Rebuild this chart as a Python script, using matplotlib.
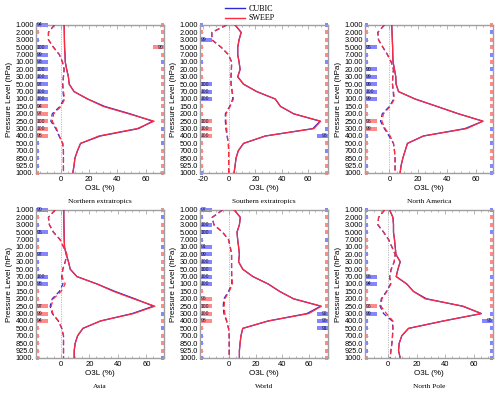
import matplotlib
matplotlib.use("Agg")
import matplotlib.pyplot as plt
import matplotlib.transforms as mtransforms
from matplotlib.patches import Rectangle
from matplotlib.lines import Line2D
from matplotlib.ticker import MultipleLocator

# pressure levels, top (1 hPa) to bottom (1000 hPa)
levels = ["1.000", "2.000", "3.000", "5.000", "7.000", "10.00", "20.00", "30.00",
          "50.00", "70.00", "100.0", "150.0", "200.0", "250.0", "300.0", "400.0",
          "500.0", "700.0", "850.0", "925.0", "1000."]

titles = ["Northern extratropics", "Southern extratropics", "North America",
          "Asia", "World", "North Pole"]

# Northern extratropics
ne_solid_red = [2.4, 2.5, 2.6, 2.7, 3.0, 3.2, 4.2, 5.4, 6.0, 9.4, 19, 30, 48, 66, 54, 27, 14, 11.8, 10, 9.4, 8.5]
ne_solid_blue = [2.4, 2.5, 2.6, 2.7, 3.0, 3.2, 4.2, 5.4, 6.0, 9.4, 19, 31, 49, 65, 55, 28, 14, 11.8, 10, 9.4, 8.5]
ne_dash_red = [-4.5, -8.7, -8.7, -5.2, -1.0, 1.2, 2.4, 1.9, 1.4, 1.9, 2.8, 0.2, -5.0, -6.0, -3.0, -1.0, 1.4, 1.9, 1.9, 1.9, 1.9]
ne_dash_blue = [-4.5, -8.7, -8.7, -5.2, -1.0, 1.2, 2.4, 1.9, 1.4, 1.6, 2.2, -0.5, -6.0, -7.0, -3.5, -1.2, 1.4, 1.9, 1.9, 1.9, 1.9]
ne_left_col = "brbbbbbbbbbrrrrrbbbbr"
ne_left_num = [94, 0, 0, 100, 99, 93, 100, 100, 97, 100, 100, 94, 97, 100, 100, 98, 0, 0, 0, 0, 0]
ne_right_col = "rrrrrbrrrrrrrrbrbrrrr"
ne_right_num = [0, 0, 0, 90, 0, 0, 0, 0, 0, 0, 0, 0, 0, 0, 0, 0, 0, 0, 0, 0, 0]

# Southern extratropics
se_solid_red = [4.6, 9.2, 7.6, 6.6, 6.6, 7.6, 8.4, 6.6, 11, 21, 35, 39, 49, 69.5, 64.4, 27.5, 11, 7, 5.3, 4.6, 3.8]
se_solid_blue = [4.6, 9.2, 7.6, 6.6, 6.6, 7.6, 8.4, 6.6, 11, 21, 35, 39, 49, 69, 63.5, 27.5, 11, 7, 5.3, 4.6, 3.8]
se_dash_red = [-1.8, -13, -13, -6, -0.5, 2, 1.8, 1.5, 1.5, 2.5, 3.3, 0.8, -2.3, -2.3, -1.8, -1.3, -0.5, -0.3, -0.3, -0.3, -0.3]
se_dash_blue = [-1.8, -13, -13, -6, -0.5, 2, 1.8, 1.5, 1.5, 2.3, 2.8, 0.5, -2.8, -2.8, -2.4, -1.5, -0.5, -0.3, -0.3, -0.3, -0.3]
se_left_col = "brbrrbrrbbbrrrrrrrrrb"
se_left_num = [0, 0, 99, 0, 0, 0, 0, 0, 100, 100, 100, 0, 0, 100, 100, 100, 0, 0, 0, 0, 0]
se_right_col = "brrrrbrrrrrrrrbbrbrrr"
se_right_num = [0, 0, 0, 0, 0, 0, 0, 0, 0, 0, 0, 0, 0, 0, 0, 93, 0, 0, 0, 0, 0]

# North America
na_solid_red = [1.6, 1.8, 2.0, 2.2, 2.3, 2.5, 3.5, 4.4, 4.6, 6.3, 17.8, 33, 48, 65, 53.7, 23.6, 12.5, 10.9, 9.3, 8.1, 7.4]
na_solid_blue = [1.6, 1.8, 2.0, 2.2, 2.3, 2.5, 3.5, 4.4, 4.6, 6.3, 17.8, 33, 48, 65, 52.5, 23.6, 12.5, 10.9, 9.3, 8.1, 7.4]
na_dash_red = [-3.5, -8.1, -7.6, -4.6, -1.4, 1.2, 2.8, 2.3, 2.1, 2.8, 3.5, 0.5, -4.2, -5.3, -3.0, 0.5, 2.8, 3.5, 3.9, 3.9, 3.9]
na_dash_blue = [-3.5, -8.1, -7.6, -4.6, -1.4, 1.2, 2.8, 2.3, 2.1, 2.6, 3.0, 0.0, -5.0, -6.2, -3.5, -0.3, 2.8, 3.5, 3.9, 3.9, 3.9]
na_left_col = "brbbbbbbbbbrrrrbrrrbr"
na_left_num = [0, 0, 0, 95, 0, 0, 90, 99, 99, 100, 99, 0, 0, 96, 99, 0, 0, 0, 0, 0, 0]
na_right_col = "rbrrbrbrrrrrrrbrbrrbb"
na_right_num = [0] * 21

# Asia
as_solid_red = [2.1, 2.1, 2.2, 2.3, 2.4, 2.6, 3.8, 5.4, 6.6, 11.3, 25.4, 37, 51, 66, 51, 27.8, 15.5, 11.8, 10.1, 9.4, 9.4]
as_solid_blue = [2.1, 2.1, 2.2, 2.3, 2.4, 2.6, 3.8, 5.4, 6.6, 11.3, 25.4, 38, 52, 65, 50, 27.8, 15.5, 11.8, 10.1, 9.4, 9.4]
as_dash_red = [-4, -8.7, -8, -5.2, -0.5, 1.9, 4.2, 3.1, 1.4, 0.9, 3.1, 0.2, -5.2, -6.8, -5.6, -1.6, 0.7, 1.9, 1.9, 1.9, 1.9]
as_dash_blue = [-4, -8.7, -8, -5.2, -0.5, 1.9, 4.2, 3.1, 1.4, 0.6, 1.5, -1.0, -6.0, -7.5, -6.0, -1.8, 0.7, 1.9, 1.9, 1.9, 1.9]
as_left_col = "brbbbrbbbbbrrrrrrrrrr"
as_left_num = [90, 0, 0, 95, 0, 0, 97, 0, 0, 100, 98, 0, 0, 97, 99, 94, 0, 0, 0, 0, 0]
as_right_col = "rbrrrbrrrrrrrrbrbrrrb"
as_right_num = [0] * 21

# World
wo_solid_red = [3.8, 8.4, 7.7, 5.9, 6.4, 7.1, 7.7, 7.1, 10.2, 17.9, 29.4, 38, 48.5, 69.5, 60, 29.4, 10.2, 8.9, 8.2, 7.7, 7.7]
wo_solid_blue = [3.8, 8.4, 7.7, 5.9, 6.4, 7.1, 7.7, 7.1, 10.2, 17.9, 29.4, 38, 48.5, 69, 58.5, 29.4, 10.2, 8.9, 8.2, 7.7, 7.7]
wo_dash_red = [-5, -12.8, -11.5, -5, -0.5, 0.8, 1.8, 1.8, 1.8, 2, 2.5, 0, -3.3, -3.8, -3.3, -1.8, -0.5, 0, 0, 0, 0]
wo_dash_blue = [-5, -12.8, -11.5, -5, -0.5, 0.8, 1.8, 1.8, 1.8, 1.8, 2.0, -0.5, -4.0, -4.5, -4.0, -2.0, -0.5, 0, 0, 0, 0]
wo_left_col = "bbbbbbbbbbbrrrrrrbbrb"
wo_left_num = [97, 0, 100, 100, 0, 91, 99, 100, 100, 100, 100, 0, 96, 100, 100, 98, 0, 0, 0, 0, 0]
wo_right_col = "brrrbrrrrrrrrrbbbrrrr"
wo_right_num = [0, 0, 0, 0, 0, 0, 0, 0, 0, 0, 0, 0, 0, 0, 92, 96, 91, 0, 0, 0, 0]

# North Pole
np_solid_red = [1.2, 3.5, 3.9, 3.9, 4.6, 5.1, 5.6, 8.6, 7.0, 5.8, 13.2, 17.8, 26, 52.6, 65.3, 38.7, 14.4, 9.7, 7.9, 7.4, 8.6]
np_solid_blue = [1.2, 3.5, 3.9, 3.9, 4.6, 5.1, 5.6, 8.6, 7.0, 5.8, 13.2, 17.8, 27, 52, 65.3, 38.7, 14.4, 9.7, 7.9, 7.4, 8.6]
np_dash_red = [-2.3, -6.5, -7, -3, 0.5, 2.8, 5.1, 4.4, 2.3, 1.2, 2.1, -0.7, -4.2, -4.9, -1.0, 3.5, 3.5, 3.2, 2.8, 2.1, 1.6]
np_dash_blue = [-2.3, -6.5, -7, -3, 0.5, 2.8, 5.1, 4.4, 2.3, 1.2, 1.8, -1.0, -4.6, -5.5, -3.0, 3.0, 3.5, 3.2, 2.8, 2.1, 1.6]
np_left_col = "bbbbrrbbrbbrrrbbbrbbr"
np_left_num = [0, 0, 0, 0, 0, 0, 0, 0, 0, 96, 94, 0, 0, 96, 99, 0, 0, 0, 0, 0, 0]
np_right_col = "brrbrrrrrbrrrrbbbrbbb"
np_right_num = [0, 0, 0, 0, 0, 0, 0, 0, 0, 0, 0, 0, 0, 0, 0, 95, 0, 0, 0, 0, 0]

xlims = [(-17.5, 73), (-22, 75), (-17, 72), (-17.4, 72.4), (-22, 74.5), (-16, 73.4)]
xticks = [[0, 20, 40, 60], [-20, 0, 20, 40, 60], [0, 20, 40, 60],
          [0, 20, 40, 60], [0, 20, 40, 60], [0, 20, 40, 60]]

panels = [
    (ne_solid_red, ne_solid_blue, ne_dash_red, ne_dash_blue, ne_left_col, ne_left_num, ne_right_col, ne_right_num),
    (se_solid_red, se_solid_blue, se_dash_red, se_dash_blue, se_left_col, se_left_num, se_right_col, se_right_num),
    (na_solid_red, na_solid_blue, na_dash_red, na_dash_blue, na_left_col, na_left_num, na_right_col, na_right_num),
    (as_solid_red, as_solid_blue, as_dash_red, as_dash_blue, as_left_col, as_left_num, as_right_col, as_right_num),
    (wo_solid_red, wo_solid_blue, wo_dash_red, wo_dash_blue, wo_left_col, wo_left_num, wo_right_col, wo_right_num),
    (np_solid_red, np_solid_blue, np_dash_red, np_dash_blue, np_left_col, np_left_num, np_right_col, np_right_num),
]

BLUE = "#2b2bd6"
RED = "#ff2a3c"
BAR = {"b": "#8585ff", "r": "#ff8a8a"}
SANS = "Liberation Sans"
SERIF = "Liberation Serif"

fig = plt.figure(figsize=(5.0, 3.93), dpi=100)

lefts = [0.072, 0.400, 0.730]
bottoms = [0.5598, 0.0891]
W, H = 0.256, 0.3766

y = list(range(len(levels)))
for k, (sr, sb, dr, db, lc, ln, rc, rn) in enumerate(panels):
    ax = fig.add_axes([lefts[k % 3], bottoms[k // 3], W, H])
    ax.set_xlim(*xlims[k])
    ax.set_ylim(len(levels) - 1, 0)
    ax.axvline(0, color="#888888", lw=0.5, ls=(0, (1, 1.5)), zorder=1)

    ax.plot(sb, y, color=BLUE, lw=0.9, zorder=3)
    ax.plot(sr, y, color=RED, lw=0.9, zorder=4)
    ax.plot(db, y, color=BLUE, lw=0.9, ls=(0, (4, 2.5)), zorder=3)
    ax.plot(dr, y, color=RED, lw=0.9, ls=(0, (4, 2.5)), zorder=4)

    trans = mtransforms.blended_transform_factory(ax.transAxes, ax.transData)
    h = 0.55
    for i in y:
        wl = 0.095 if ln[i] else 0.024
        ax.add_patch(Rectangle((0, i - h / 2), wl, h, transform=trans,
                               color=BAR[lc[i]], lw=0, zorder=2, clip_on=False))
        if ln[i]:
            ax.text(0.005, i, str(ln[i]), transform=trans, fontsize=3.6,
                    family=SANS, color="#1a1a40", va="center", ha="left", zorder=5)
        wr = 0.085 if rn[i] else 0.022
        ax.add_patch(Rectangle((1 - wr, i - h / 2), wr, h, transform=trans,
                               color=BAR[rc[i]], lw=0, zorder=2, clip_on=False))
        if rn[i]:
            ax.text(0.995, i, str(rn[i]), transform=trans, fontsize=3.6,
                    family=SANS, color="#1a1a40", va="center", ha="right", zorder=5)

    ax.set_yticks(y)
    ax.set_yticklabels(levels, fontsize=5.3, family=SANS)
    ax.set_xticks(xticks[k])
    ax.set_xticklabels([str(t) for t in xticks[k]], fontsize=5.5, family=SANS)
    ax.xaxis.set_minor_locator(MultipleLocator(5))
    ax.tick_params(axis="x", which="both", direction="in", top=True, pad=2,
                   color="#999999")
    ax.tick_params(axis="x", which="major", length=3, width=0.5)
    ax.tick_params(axis="x", which="minor", length=1.5, width=0.5)
    ax.tick_params(axis="y", direction="in", length=2, width=0.5, pad=1.5,
                   color="#999999")
    for s in ax.spines.values():
        s.set_color("#a0a0a0")
        s.set_linewidth(1.0)

    ax.set_xlabel("O3L (%)", fontsize=5.8, family=SANS, labelpad=1.5)
    ax.set_ylabel("Pressure Level (hPa)", fontsize=5.8, family=SANS, labelpad=1.5)
    ax.text(0.5, -0.19, titles[k], transform=ax.transAxes, fontsize=5.3,
            family=SERIF, ha="center", va="center")

handles = [Line2D([], [], color=BLUE, lw=1.0), Line2D([], [], color=RED, lw=1.0)]
leg = fig.legend(handles, ["CUBIC", "SWEEP"], loc="upper center",
                 bbox_to_anchor=(0.5, 1.005), frameon=False, handlelength=2.4,
                 labelspacing=0.15, handletextpad=0.5,
                 prop={"family": SERIF, "size": 5.8})

fig.savefig("out.png", dpi=100)
